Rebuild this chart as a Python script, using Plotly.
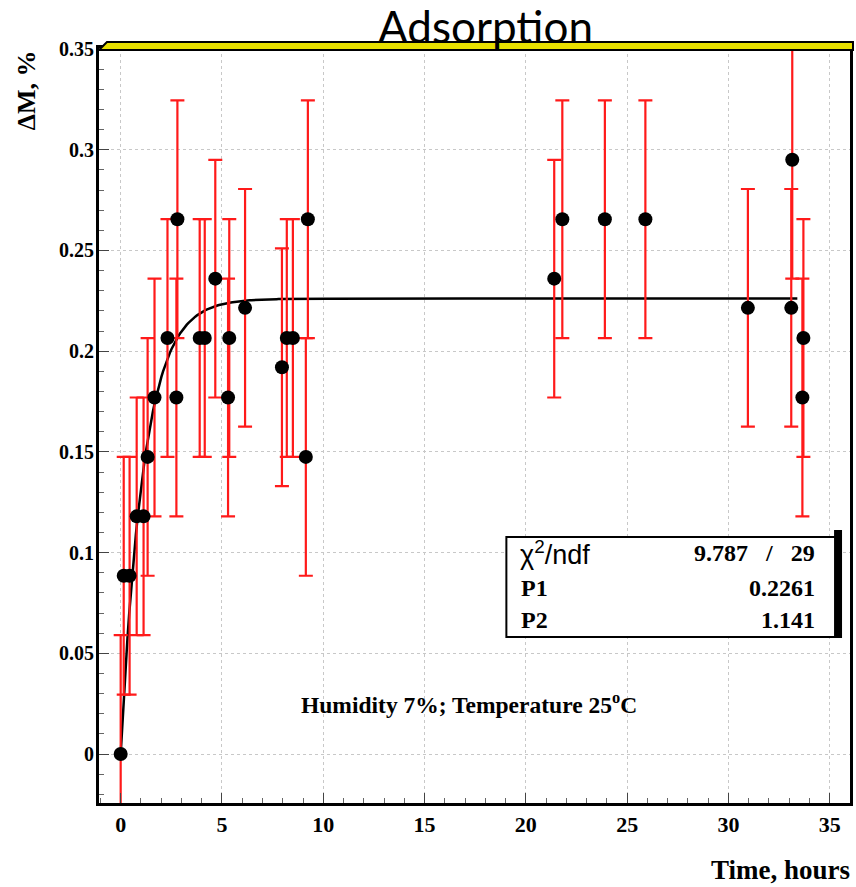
import plotly.graph_objects as go
import numpy as np

# ---- data ----
time_h = [0, 0.15, 0.44, 0.79, 1.13, 1.33, 1.67, 2.31, 2.75, 2.8, 3.9, 4.15, 4.67,
          5.3, 5.36, 6.14, 7.96, 8.2, 8.5, 9.14, 9.24, 21.4, 21.8, 23.9, 25.9,
          30.96, 33.1, 33.15, 33.65, 33.7]
delta_m = [0, 0.0885, 0.0885, 0.118, 0.118, 0.1475, 0.177, 0.2065, 0.177, 0.2655,
           0.2065, 0.2065, 0.236, 0.177, 0.2065, 0.2215, 0.192, 0.2065, 0.2065,
           0.1475, 0.2655, 0.236, 0.2655, 0.2655, 0.2655, 0.2215, 0.2215, 0.295,
           0.177, 0.2065]
delta_m_err = [0.059] * len(time_h)

# fit parameters shown in the stats box
P1 = 0.2261
P2 = 1.141
chi2 = "9.787"
ndf = "29"
fit_range = [0, 33.4]

x_ticks = [0, 5, 10, 15, 20, 25, 30, 35]
x_ticktext = ["0", "5", "10", "15", "20", "25", "30", "35"]
y_ticks = [0, 0.05, 0.1, 0.15, 0.2, 0.25, 0.3, 0.35]
y_ticktext = ["0", "0.05", "0.1", "0.15", "0.2", "0.25", "0.3", "0.35"]

# ---- layout geometry ----
W, H = 856, 887
L, R, T, B = 99, 3, 48, 84
PW, PH = W - L - R, H - T - B


def px(x):
    return (x - L) / PW


def py(y):
    return (H - B - y) / PH


SERIF = "Liberation Serif"

fit_x = np.linspace(fit_range[0], fit_range[1], 400)
fit_y = P1 * (1 - np.exp(-fit_x / P2))

fig = go.Figure()
fig.add_trace(go.Scatter(
    x=fit_x, y=fit_y, mode="lines",
    line=dict(color="black", width=2.5), hoverinfo="skip", showlegend=False))
fig.add_trace(go.Scatter(
    x=time_h, y=delta_m, mode="markers",
    marker=dict(color="black", size=14),
    error_y=dict(type="data", array=delta_m_err, color="#ff1a1a",
                 thickness=2.2, width=7),
    showlegend=False))

axis_common = dict(
    showline=True, linecolor="black", linewidth=3, mirror=True,
    ticks="inside", tickcolor="#444", ticklen=10, tickwidth=1,
    showgrid=True, gridcolor="#c8c8c8", griddash="dot", gridwidth=1,
    zeroline=False,
)

fig.update_xaxes(
    range=[-1.07, 36.0], tickvals=x_ticks, ticktext=x_ticktext,
    tickfont=dict(family=SERIF, size=22, color="black", weight="bold"),
    minor=dict(ticks="inside", dtick=1, ticklen=5, tickcolor="#666", showgrid=False),
    **axis_common)
fig.update_yaxes(
    range=[-0.0243, 0.3505], tickvals=y_ticks, ticktext=y_ticktext,
    tickfont=dict(family=SERIF, size=20, color="black", weight="bold"),
    minor=dict(ticks="inside", dtick=0.01, ticklen=5, tickcolor="#666", showgrid=False),
    ticklabelstandoff=-2,
    **axis_common)

shapes = []
# yellow top strip with slanted left corner
shapes.append(dict(
    type="path", xref="paper", yref="paper",
    path=f"M {px(99)},{py(50)} L {px(107)},{py(42)} L {px(856)},{py(42)} L {px(856)},{py(50)} Z",
    fillcolor="#e8e000", line=dict(color="black", width=2), layer="above"))
# stats box shadow + box
shapes.append(dict(type="rect", xref="paper", yref="paper",
                   x0=px(837), x1=px(845), y0=py(638), y1=py(530),
                   fillcolor="black", line=dict(width=0), layer="above"))
shapes.append(dict(type="rect", xref="paper", yref="paper",
                   x0=px(508), x1=px(838), y0=py(637), y1=py(537),
                   fillcolor="white", line=dict(color="black", width=2), layer="above"))

annotations = []
annotations.append(dict(text="Adsorption", xref="paper", yref="paper",
                        x=px(487), y=py(26), xanchor="center", yanchor="middle",
                        showarrow=False, font=dict(family="Lato", size=44, color="black")))
annotations.append(dict(text="ΔM, %", xref="paper", yref="paper",
                        x=px(26), y=py(90), xanchor="center", yanchor="middle",
                        textangle=-90, showarrow=False,
                        font=dict(family=SERIF, size=26, color="black", weight="bold")))
annotations.append(dict(text="Time, hours", xref="paper", yref="paper",
                        x=px(855), y=py(870), xanchor="right", yanchor="middle",
                        showarrow=False,
                        font=dict(family=SERIF, size=27, color="black", weight="bold")))
annotations.append(dict(text="Humidity 7%; Temperature 25<sup>o</sup>C", xref="paper", yref="paper",
                        x=px(470), y=py(703), xanchor="center", yanchor="middle",
                        showarrow=False,
                        font=dict(family=SERIF, size=23.5, color="black", weight="bold")))
# stats box contents
rows_y = [553, 588, 620]
annotations.append(dict(text="χ<sup>2</sup>/ndf", xref="paper", yref="paper",
                        x=px(520), y=py(rows_y[0]), xanchor="left", yanchor="middle",
                        showarrow=False, font=dict(family="Liberation Sans", size=27, color="black")))
annotations.append(dict(text=f"{chi2}   /   {ndf}", xref="paper", yref="paper",
                        x=px(820), y=py(rows_y[0]), xanchor="right", yanchor="middle",
                        showarrow=False,
                        font=dict(family=SERIF, size=24, color="black", weight="bold")))
for lab, val, yy in [("P1", f"{P1}", rows_y[1]), ("P2", f"{P2}", rows_y[2])]:
    annotations.append(dict(text=lab, xref="paper", yref="paper",
                            x=px(521), y=py(yy), xanchor="left", yanchor="middle",
                            showarrow=False,
                            font=dict(family=SERIF, size=24, color="black", weight="bold")))
    annotations.append(dict(text=val, xref="paper", yref="paper",
                            x=px(820), y=py(yy), xanchor="right", yanchor="middle",
                            showarrow=False,
                            font=dict(family=SERIF, size=24, color="black", weight="bold")))

fig.update_layout(
    width=W, height=H,
    margin=dict(l=L, r=R, t=T, b=B, pad=0),
    paper_bgcolor="white", plot_bgcolor="white",
    shapes=shapes, annotations=annotations,
)

fig.write_html("out.html")
